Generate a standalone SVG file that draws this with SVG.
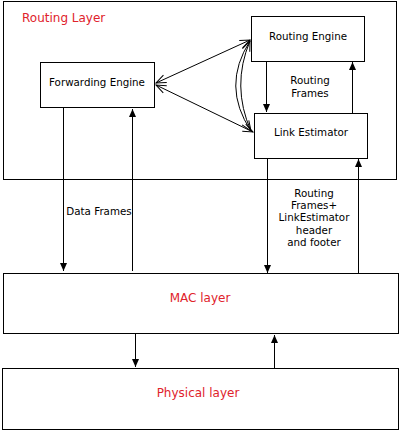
<svg xmlns="http://www.w3.org/2000/svg" width="400" height="431" viewBox="0 0 400 431">
<style>
.box{fill:#fff;stroke:#000;stroke-width:1}
.t{font-family:"DejaVu Sans",sans-serif;font-size:10.3px;fill:#000;text-anchor:middle}
.r{font-family:"DejaVu Sans",sans-serif;font-size:12px;fill:#e0222b}
.c{fill:none;stroke:#000;stroke-width:1}
</style>
<defs>
<marker id="f" markerUnits="userSpaceOnUse" markerWidth="10" markerHeight="10" viewBox="0 0 10 10" refX="9" refY="5" orient="auto">
<path d="M1,1.5 L9,5 L1,8.5 Z" fill="#000"/>
</marker>
<marker id="o" markerUnits="userSpaceOnUse" markerWidth="12" markerHeight="12" viewBox="0 0 12 12" refX="11" refY="6" orient="auto-start-reverse">
<path d="M1,2 L11,6 L1,10" fill="none" stroke="#000" stroke-width="1"/>
</marker>
</defs>
<g id="routing-layer"><rect class="box" x="3.5" y="1.5" width="393" height="178"/><text class="r" x="22" y="22">Routing Layer</text></g>
<g id="forwarding-engine"><rect class="box" x="40.5" y="62.5" width="114" height="45"/><text class="t" x="97" y="86">Forwarding Engine</text></g>
<g id="routing-engine"><rect class="box" x="251.5" y="16.5" width="113" height="45"/><text class="t" x="308" y="40">Routing Engine</text></g>
<g id="link-estimator"><rect class="box" x="254.5" y="113.5" width="113" height="45"/><text class="t" x="311" y="136">Link Estimator</text></g>
<g id="mac-layer"><rect class="box" x="3.5" y="273.5" width="395" height="60"/><text class="r" x="200" y="302" text-anchor="middle">MAC layer</text></g>
<g id="physical-layer"><rect class="box" x="2.5" y="368.5" width="396" height="61"/><text class="r" x="198" y="397" text-anchor="middle">Physical layer</text></g>
<g id="connectors">
<line class="c" x1="156" y1="83" x2="250" y2="40" marker-start="url(#o)" marker-end="url(#o)"/>
<line class="c" x1="156" y1="85" x2="253" y2="132" marker-start="url(#o)" marker-end="url(#o)"/>
<path class="c" d="M250,41 Q221,86 251,131" marker-end="url(#o)"/>
<path class="c" d="M251,131 Q231,86 250,41" marker-end="url(#o)"/>
<line class="c" x1="266.5" y1="61" x2="266.5" y2="112" marker-end="url(#f)"/>
<line class="c" x1="352.5" y1="113" x2="352.5" y2="62" marker-end="url(#f)"/>
<text class="t" x="310" y="84">Routing</text>
<text class="t" x="310" y="97">Frames</text>
<line class="c" x1="63.5" y1="107" x2="63.5" y2="271" marker-end="url(#f)"/>
<line class="c" x1="132.5" y1="271" x2="132.5" y2="109" marker-end="url(#f)"/>
<text class="t" x="99" y="215">Data Frames</text>
<line class="c" x1="267.5" y1="158" x2="267.5" y2="273" marker-end="url(#f)"/>
<line class="c" x1="358.5" y1="273" x2="358.5" y2="159" marker-end="url(#f)"/>
<text class="t" x="314" y="197">Routing</text>
<text class="t" x="314" y="209">Frames+</text>
<text class="t" x="314" y="221">LinkEstimator</text>
<text class="t" x="314" y="234">header</text>
<text class="t" x="314" y="246">and footer</text>
<line class="c" x1="135.5" y1="334" x2="135.5" y2="367" marker-end="url(#f)"/>
<line class="c" x1="274.5" y1="368" x2="274.5" y2="335" marker-end="url(#f)"/>
</g>
</svg>
